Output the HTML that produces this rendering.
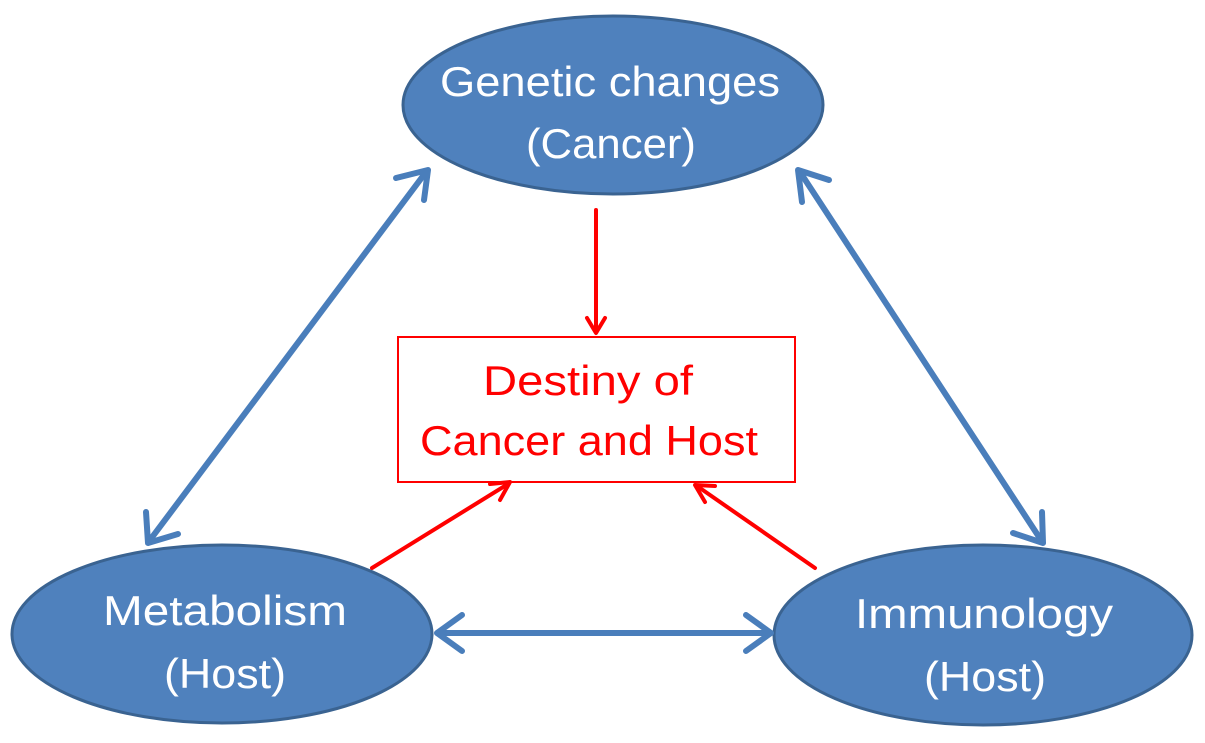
<!DOCTYPE html>
<html><head><style>
html,body{margin:0;padding:0;background:#fff;width:1205px;height:743px;overflow:hidden}
svg text{font-family:"Liberation Sans",sans-serif}
</style></head><body>
<svg width="1205" height="743" viewBox="0 0 1205 743" xmlns="http://www.w3.org/2000/svg">
<g fill="#4f81bd" stroke="#3a6391" stroke-width="3">
<ellipse cx="613" cy="105" rx="210" ry="89"/>
<ellipse cx="222" cy="634" rx="210" ry="89"/>
<ellipse cx="983" cy="635" rx="209" ry="90"/>
</g>
<g fill="#fff" font-size="42" text-anchor="middle" lengthAdjust="spacingAndGlyphs">
<text x="610" y="96" textLength="340" lengthAdjust="spacingAndGlyphs">Genetic changes</text>
<text x="611" y="158" textLength="170" lengthAdjust="spacingAndGlyphs">(Cancer)</text>
<text x="225" y="625" textLength="244" lengthAdjust="spacingAndGlyphs">Metabolism</text>
<text x="225" y="688" textLength="122" lengthAdjust="spacingAndGlyphs">(Host)</text>
<text x="984" y="628" textLength="258" lengthAdjust="spacingAndGlyphs">Immunology</text>
<text x="985" y="691" textLength="122" lengthAdjust="spacingAndGlyphs">(Host)</text>
</g>
<rect x="398" y="337" width="397" height="145" fill="#fff" stroke="#ff0000" stroke-width="2"/>
<g fill="#ff0000" font-size="42" text-anchor="middle">
<text x="588" y="395" textLength="210" lengthAdjust="spacingAndGlyphs">Destiny of</text>
<text x="589" y="455" textLength="338" lengthAdjust="spacingAndGlyphs">Cancer and Host</text>
</g>
<g stroke="#4a7ebb" stroke-width="6" fill="none" stroke-linecap="round" stroke-linejoin="round">
<line x1="150" y1="540" x2="426" y2="172"/>
<polyline points="146,512 148,543 178,534"/>
<polyline points="396,178 428,170 424,200"/>
<line x1="800" y1="172" x2="1041" y2="540"/>
<polyline points="802,202 798,170 829,180"/>
<polyline points="1013,533 1043,543 1042,512"/>
<line x1="440" y1="633" x2="768" y2="633"/>
<polyline points="462,615 437,633 462,651"/>
<polyline points="746,615 771,633 746,651"/>
</g>
<g stroke="#ff0000" stroke-width="4" fill="none" stroke-linecap="round" stroke-linejoin="round">
<line x1="596" y1="210" x2="596" y2="330"/>
<polyline points="587,318 596,333 605,318"/>
<line x1="372" y1="568" x2="508" y2="484"/>
<polyline points="490,484 510,482 500,500"/>
<line x1="815" y1="568" x2="697" y2="486"/>
<polyline points="715,486 695,485 705,502"/>
</g>
</svg>
</body></html>
